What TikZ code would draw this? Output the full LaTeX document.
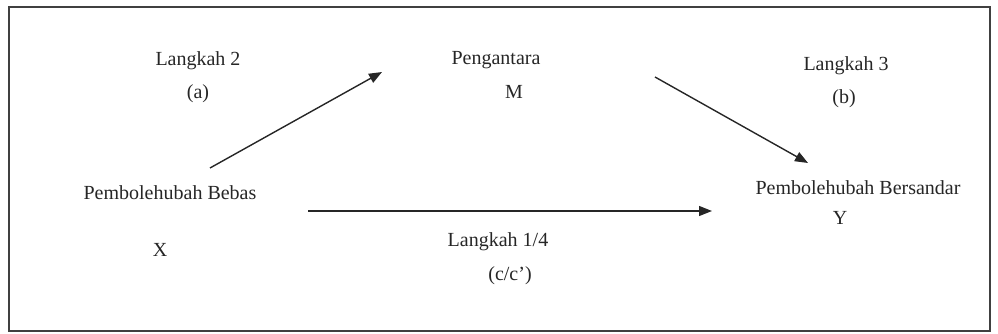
\documentclass[tikz,border=0pt]{standalone}
\usepackage{fontspec}
\setmainfont{Liberation Serif}
\usetikzlibrary{arrows.meta}
\begin{document}
\begin{tikzpicture}[x=1pt,y=-1pt,
  lbl/.style={inner sep=0pt,font=\fontsize{20}{24}\selectfont,text=black!85},
  arr/.style={line width=1.4pt,draw=black!85,-{Triangle[length=13pt,width=10pt]}}]
\useasboundingbox (0,0) rectangle (998,334);
\draw[line width=1.5pt,draw=black!75] (9,7) rectangle (990,331);
\node[lbl] (l2) at (198,61) {Langkah 2};
\node[lbl] (a) at (198,94) {(a)};
\node[lbl] (m) at (496,60) {Pengantara};
\node[lbl] (mm) at (514,92) {M};
\node[lbl] (l3) at (846,66) {Langkah 3};
\node[lbl] (b) at (844,99) {(b)};
\node[lbl] (x) at (170,193) {Pembolehubah Bebas};
\node[lbl] (xx) at (160,250) {X};
\node[lbl] (y) at (858,188) {Pembolehubah Bersandar};
\node[lbl] (yy) at (840,218) {Y};
\node[lbl] (l14) at (498,242) {Langkah 1/4};
\node[lbl] (c) at (510,276) {(c/c')};
\coordinate (a1s) at (210,168);
\coordinate (a1e) at (382,72);
\coordinate (a2s) at (655,77);
\coordinate (a2e) at (808,163);
\coordinate (a3s) at (308,211);
\coordinate (a3e) at (712,211);
\draw[arr] (a1s) -- (a1e);
\draw[arr] (a2s) -- (a2e);
\draw[arr] (a3s) -- (a3e);
\end{tikzpicture}
\end{document}
